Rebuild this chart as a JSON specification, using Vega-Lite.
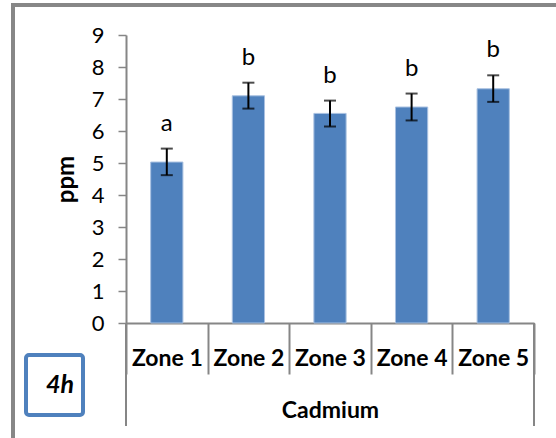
{
  "$schema": "https://vega.github.io/schema/vega-lite/v6.json",
  "width": 408,
  "height": 288,
  "autosize": {"type": "none"},
  "padding": {"left": 126, "top": 35, "right": 22, "bottom": 115},
  "background": "white",
  "config": {
    "font": "Lato",
    "view": {"stroke": null},
    "legend": {"strokeWidth": 4},
    "axisY": {
      "values": [0, 1, 2, 3, 4, 5, 6, 7, 8, 9],
      "grid": false,
      "domainColor": "#868686",
      "domainWidth": 2,
      "tickColor": "#868686",
      "tickWidth": 1.5,
      "tickSize": 8,
      "labelFontSize": 22,
      "labelColor": "#000000",
      "labelPadding": 14,
      "titleFontSize": 24,
      "titleFontWeight": "bold",
      "titleColor": "#000000",
      "titleX": -60,
      "titleY": 144,
      "titleAngle": 270,
      "titleAlign": "center",
      "titleBaseline": "middle"
    }
  },
  "data": {
    "values": [
      {"zone": "Zone 1", "mean": 5.03, "lower": 4.62, "upper": 5.45, "letter": "a", "panel": "4h"},
      {"zone": "Zone 2", "mean": 7.10, "lower": 6.70, "upper": 7.51, "letter": "b", "panel": "4h"},
      {"zone": "Zone 3", "mean": 6.55, "lower": 6.14, "upper": 6.95, "letter": "b", "panel": "4h"},
      {"zone": "Zone 4", "mean": 6.75, "lower": 6.33, "upper": 7.17, "letter": "b", "panel": "4h"},
      {"zone": "Zone 5", "mean": 7.32, "lower": 6.91, "upper": 7.74, "letter": "b", "panel": "4h"}
    ]
  },
  "encoding": {
    "x": {
      "field": "zone",
      "type": "nominal",
      "sort": null,
      "scale": {"paddingInner": 0, "paddingOuter": 0},
      "axis": {
        "title": "Cadmium",
        "tickBand": "extent",
        "tickSize": 51,
        "tickColor": "#868686",
        "tickWidth": 2,
        "domainColor": "#868686",
        "domainWidth": 2,
        "labelAngle": 0,
        "labelFontSize": 23,
        "labelFontWeight": "bold",
        "labelColor": "#000000",
        "labelBaseline": "top",
        "labelPadding": -27,
        "titleFontSize": 23,
        "titleFontWeight": "bold",
        "titleColor": "#000000",
        "titleX": 204,
        "titleY": 94,
        "titleBaseline": "alphabetic",
        "titleAlign": "center"
      }
    }
  },
  "layer": [
    {
      "mark": {"type": "bar", "stroke": "#a9c1e1", "strokeWidth": 1, "width": {"band": 0.395}},
      "encoding": {
        "y": {
          "field": "mean",
          "type": "quantitative",
          "scale": {"domain": [0, 9], "nice": false},
          "axis": {"title": "ppm", "values": [0, 1, 2, 3, 4, 5, 6, 7, 8, 9]}
        },
        "color": {
          "field": "panel",
          "type": "nominal",
          "scale": {"range": ["#4F81BD"]},
          "legend": {
            "title": null,
            "orient": "none",
            "legendX": -100,
            "legendY": 320,
            "strokeColor": "#4F81BD",
            "cornerRadius": 3,
            "padding": 8,
            "symbolType": "M0,0",
            "symbolSize": 1,
            "symbolOpacity": 0,
            "symbolStrokeWidth": 0,
            "labelOffset": -13,
            "labelFontSize": 25,
            "labelFontWeight": "bold",
            "labelFontStyle": "italic",
            "labelColor": "#000000",
            "clipHeight": 44
          }
        }
      }
    },
    {
      "mark": {"type": "errorbar", "color": "black", "thickness": 2, "ticks": {"size": 12}},
      "encoding": {
        "y": {"field": "lower", "type": "quantitative", "axis": {"title": "ppm", "values": [0, 1, 2, 3, 4, 5, 6, 7, 8, 9]}},
        "y2": {"field": "upper"}
      }
    },
    {
      "mark": {"type": "text", "fontSize": 24, "dy": -18, "baseline": "alphabetic", "color": "black"},
      "encoding": {
        "y": {"field": "upper", "type": "quantitative", "axis": {"title": "ppm", "values": [0, 1, 2, 3, 4, 5, 6, 7, 8, 9]}},
        "text": {"field": "letter"},
        "opacity": {
          "field": "panel",
          "type": "nominal",
          "scale": {"range": [1]},
          "legend": {
            "title": null,
            "orient": "none",
            "legendX": -113,
            "legendY": -30,
            "strokeColor": "#878787",
            "padding": 400,
            "symbolType": "M0,0",
            "symbolSize": 0,
            "symbolStrokeWidth": 0,
            "labelOpacity": 0
          }
        }
      }
    },
    {
      "transform": [{"filter": "datum.zone === 'Zone 1'"}],
      "mark": {"type": "rule", "color": "#868686", "strokeWidth": 2},
      "encoding": {
        "x": {"field": "zone", "type": "nominal", "sort": null, "bandPosition": 0},
        "y": {"datum": 0, "type": "quantitative", "axis": {"title": "ppm", "values": [0, 1, 2, 3, 4, 5, 6, 7, 8, 9]}},
        "y2": {"datum": -3.22}
      }
    },
    {
      "transform": [{"filter": "datum.zone === 'Zone 5'"}],
      "mark": {"type": "rule", "color": "#868686", "strokeWidth": 2},
      "encoding": {
        "x": {"field": "zone", "type": "nominal", "sort": null, "bandPosition": 1},
        "y": {"datum": 0, "type": "quantitative", "axis": {"title": "ppm", "values": [0, 1, 2, 3, 4, 5, 6, 7, 8, 9]}},
        "y2": {"datum": -3.22}
      }
    }
  ]
}
